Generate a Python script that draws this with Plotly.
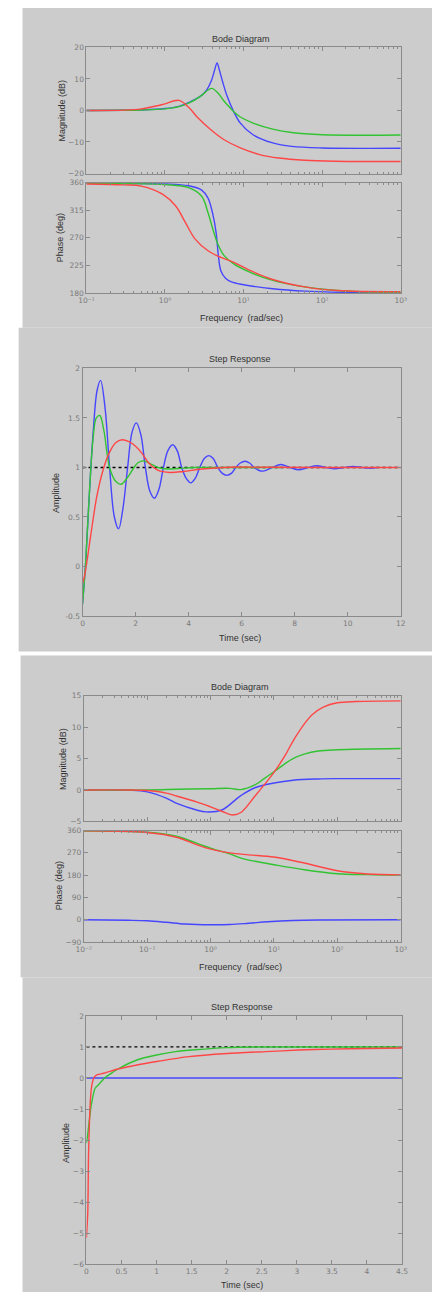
import plotly.graph_objects as go

# ---------------- data ----------------
# Figure 1: Bode diagram
bode1_w_blue = [0.1, 0.3, 0.5, 1.0, 1.5, 2.0, 2.93, 3.4, 3.9, 4.3, 4.6, 4.9, 5.4, 6.2, 7.5, 9.1, 13.2, 23.5, 41, 100, 1000]
bode1_mag_blue = [0, 0.05, 0.15, 0.6, 1.3, 2.5, 4.8, 6.5, 9.5, 13.0, 15.1, 13.0, 9.2, 4.4, -0.4, -4.0, -7.7, -10.3, -11.4, -11.9, -12.0]
bode1_w_green = [0.1, 0.3, 0.5, 1.0, 1.5, 2.0, 2.93, 3.5, 3.95, 4.7, 5.5, 6.2, 7.5, 9, 13.2, 23.5, 41, 100, 1000]
bode1_mag_green = [0, 0.05, 0.15, 0.5, 1.2, 2.3, 4.8, 6.4, 7.0, 5.6, 3.3, 1.8, -0.4, -2.0, -4.0, -5.9, -7.0, -7.7, -7.8]
bode1_w_red = [0.1, 0.3, 0.5, 0.8, 1.0, 1.5, 2.0, 2.66, 3.9, 5.66, 9.1, 16, 28, 60, 150, 1000]
bode1_mag_red = [0, 0.1, 0.5, 1.5, 2.1, 3.2, 1.0, -2.5, -6.3, -9.3, -11.9, -14.0, -15.1, -15.8, -16.1, -16.2]

bode1_pw_blue = [0.1, 1, 2, 2.93, 3.53, 4.07, 4.47, 4.78, 5.15, 5.9, 7, 10, 23.5, 60, 200, 1000]
bode1_ph_blue = [359, 358, 355, 348, 335, 308, 279, 241, 216, 204, 198, 193.5, 187, 183, 181, 180]
bode1_pw_green = [0.1, 1, 2, 2.93, 3.53, 4.07, 4.7, 5.66, 7.5, 12, 23.5, 60, 155, 1000]
bode1_ph_green = [359, 357, 352, 338, 311, 284, 260, 241, 227.5, 214, 200.6, 190, 184, 180.5]
bode1_pw_red = [0.1, 0.3, 0.5, 0.94, 1.37, 1.82, 2.42, 3.53, 5.15, 7.5, 12, 23.5, 60, 155, 1000]
bode1_ph_red = [358, 356.5, 354.5, 341, 322, 295, 268, 249, 238, 230, 217, 202, 190, 184, 182]

# Figure 2: Step response
step1_t_blue = [0, 0.12, 0.25, 0.4, 0.55, 0.68, 0.85, 1.02, 1.2, 1.36, 1.52, 1.7, 1.87, 2.03, 2.2, 2.37,
                2.54, 2.71, 2.88, 3.05, 3.22, 3.4, 3.57, 3.74, 3.91, 4.08, 4.25, 4.42, 4.59, 4.76, 4.93,
                5.1, 5.27, 5.44, 5.61, 5.78, 5.95, 6.13, 6.3, 6.47, 6.64, 6.81, 7.15, 7.48, 7.82, 8.16,
                8.5, 8.84, 9.18, 9.52, 9.86, 10.2, 10.54, 10.88, 11.1]
step1_y_blue = [-0.38, 0.05, 0.7, 1.35, 1.78, 1.88, 1.6, 1.0, 0.5, 0.38, 0.58, 1.0, 1.36, 1.45, 1.33, 1.0,
                0.76, 0.69, 0.78, 1.0, 1.17, 1.23, 1.17, 1.0, 0.89, 0.845, 0.89, 1.0, 1.09, 1.12, 1.09,
                1.0, 0.94, 0.92, 0.94, 1.0, 1.045, 1.063, 1.045, 1.0, 0.972, 0.963, 1.0, 1.03, 1.0, 0.977,
                1.0, 1.018, 1.0, 0.987, 1.0, 1.01, 1.0, 0.993, 1.0]
step1_t_green = [0, 0.12, 0.25, 0.4, 0.52, 0.65, 0.8, 1.02, 1.25, 1.45, 1.7, 1.94, 2.1, 2.3, 2.55, 2.85, 3.2, 3.6, 4.2, 5, 6, 7.5]
step1_y_green = [-0.38, 0.05, 0.7, 1.3, 1.5, 1.525, 1.38, 1.0, 0.86, 0.83, 0.9, 1.0, 1.05, 1.067, 1.04, 1.0, 0.985, 0.99, 1.0, 1.0, 1.0, 1.0]
step1_t_red = [0, 0.08, 0.29, 0.54, 0.78, 1.02, 1.25, 1.49, 1.75, 2.0, 2.25, 2.48, 2.85, 3.3, 3.8, 4.5, 5.5, 7, 9, 12]
step1_y_red = [-0.17, -0.09, 0.28, 0.71, 0.98, 1.155, 1.25, 1.28, 1.26, 1.215, 1.14, 1.05, 0.97, 0.95, 0.96, 0.985, 1.003, 1.002, 1.0, 1.0]
step1_ref_t = [0, 12]
step1_ref_y = [1, 1]

# Figure 3: Bode diagram
bode2_w_blue = [0.01, 0.05, 0.1, 0.2, 0.3, 0.6, 0.85, 1.5, 3, 5, 10, 20, 50, 100, 1000]
bode2_mag_blue = [0, -0.05, -0.3, -1.3, -2.2, -3.2, -3.5, -3.2, -0.9, 0.35, 1.1, 1.55, 1.75, 1.8, 1.8]
bode2_w_green = [0.01, 0.1, 0.3, 1, 2, 3, 5, 7, 10, 15, 20, 30, 50, 100, 1000]
bode2_mag_green = [0, 0, 0.1, 0.2, 0.25, 0.05, 0.8, 1.8, 2.9, 4.2, 5.0, 5.7, 6.2, 6.4, 6.6]
bode2_w_red = [0.01, 0.05, 0.1, 0.2, 0.3, 0.6, 1, 1.5, 2.2, 3, 5, 7, 10, 15, 20, 30, 40, 60, 100, 200, 1000]
bode2_mag_red = [0, 0, -0.1, -0.5, -1.0, -1.9, -2.7, -3.4, -4.0, -3.6, -1.0, 0.8, 2.8, 5.5, 7.8, 10.5, 12.0, 13.2, 13.9, 14.1, 14.2]

bode2_pw_blue = [0.01, 0.05, 0.1, 0.2, 0.4, 1, 2, 4, 8, 20, 50, 1000]
bode2_ph_blue = [0, -2, -4, -10, -17, -20, -19, -14, -8, -3, -1, 0]
bode2_pw_green = [0.01, 0.1, 0.3, 0.6, 1, 2, 3, 5, 10, 30, 100, 300, 1000]
bode2_ph_green = [358, 353, 336, 309, 289, 266, 249, 236, 222, 202, 186, 182, 180]
bode2_pw_red = [0.01, 0.1, 0.3, 0.6, 1, 2, 4, 10, 30, 100, 300, 1000]
bode2_ph_red = [359, 352, 332, 303, 285, 270, 262, 253, 229, 198, 185, 181]

# Figure 4: Step response
step2_t_blue = [0, 4.5]
step2_y_blue = [0, 0]
step2_t_green = [0, 0.02, 0.04, 0.07, 0.124, 0.18, 0.26, 0.354, 0.45, 0.72, 1.0, 1.27, 1.55, 2.0, 2.5, 3, 4.5]
step2_y_green = [-2.1, -1.8, -1.39, -0.86, -0.33, -0.2, 0.0, 0.15, 0.29, 0.58, 0.74, 0.85, 0.91, 0.98, 1.0, 1.0, 1.0]
step2_t_red = [0, 0.02, 0.03, 0.045, 0.06, 0.08, 0.11, 0.15, 0.26, 0.45, 0.72, 1.0, 1.46, 2.01, 2.56, 3.02, 3.48, 4.0, 4.5]
step2_y_red = [-5.15, -4.3, -2.5, -1.3, -0.6, -0.2, 0.02, 0.1, 0.16, 0.29, 0.42, 0.53, 0.69, 0.79, 0.85, 0.9, 0.93, 0.95, 0.965]
step2_ref_t = [0, 4.5]
step2_ref_y = [1, 1]

# tick labels
log_labels_1 = ["10\u207b\u00b9", "10\u2070", "10\u00b9", "10\u00b2", "10\u00b3"]
log_labels_2 = ["10\u207b\u00b2", "10\u207b\u00b9", "10\u2070", "10\u00b9", "10\u00b2", "10\u00b3"]

# ---------------- layout helpers ----------------
W, H = 438, 1297
def fx(px):
    return px / W
def fy(py):
    return 1 - py / H

BLUE = 'rgb(70,70,255)'
GREEN = 'rgb(50,195,50)'
RED = 'rgb(255,70,70)'
FRAME = '#8a8a8a'
TICKFONT = dict(family='DejaVu Sans, Liberation Sans, sans-serif', size=7.5, color='#7a7a7a')
LABELFONT = dict(family='Liberation Sans, Arial, sans-serif', size=9, color='#333333')

fig = go.Figure()

def add(x, y, color, n, dash=None, shape='spline', width=1.4, smoothing=1.0):
    suf = '' if n == 1 else str(n)
    fig.add_trace(go.Scatter(x=x, y=y, mode='lines',
                             line=dict(color=color, width=width, shape=shape, dash=dash,
                                       smoothing=smoothing if shape == 'spline' else None),
                             xaxis='x' + suf, yaxis='y' + suf, showlegend=False, hoverinfo='skip'))

# fig 1
add(bode1_w_blue, bode1_mag_blue, BLUE, 1)
add(bode1_w_green, bode1_mag_green, GREEN, 1)
add(bode1_w_red, bode1_mag_red, RED, 1)
add(bode1_pw_blue, bode1_ph_blue, BLUE, 2)
add(bode1_pw_green, bode1_ph_green, GREEN, 2)
add(bode1_pw_red, bode1_ph_red, RED, 2)
# fig 2
add(step1_ref_t, step1_ref_y, 'black', 3, dash='dot', shape='linear', width=1.3)
add(step1_t_blue, step1_y_blue, BLUE, 3)
add(step1_t_green, step1_y_green, GREEN, 3)
add(step1_t_red, step1_y_red, RED, 3)
# fig 3
add(bode2_w_blue, bode2_mag_blue, BLUE, 4)
add(bode2_w_green, bode2_mag_green, GREEN, 4)
add(bode2_w_red, bode2_mag_red, RED, 4)
add(bode2_pw_blue, bode2_ph_blue, BLUE, 5)
add(bode2_pw_green, bode2_ph_green, GREEN, 5)
add(bode2_pw_red, bode2_ph_red, RED, 5)
# fig 4
add(step2_ref_t, step2_ref_y, 'black', 6, dash='dot', shape='linear', width=1.3)
add(step2_t_blue, step2_y_blue, BLUE, 6, shape='linear')
add(step2_t_green, step2_y_green, GREEN, 6, smoothing=0.6)
add(step2_t_red, step2_y_red, RED, 6, smoothing=0.6)

minor_log = [k * 10.0 ** d for d in range(-2, 3) for k in range(2, 10)]

def base_axis(dom, anchor, **kw):
    d = dict(domain=dom, anchor=anchor, showline=True, linecolor=FRAME, linewidth=1,
             mirror='ticks', ticks='inside', ticklen=4, tickcolor=FRAME, tickwidth=1,
             showgrid=False, zeroline=False, tickfont=TICKFONT, fixedrange=True)
    d.update(kw)
    return d

def logx(dom, anchor, rng, vals, labels, show):
    return base_axis(dom, anchor, type='log', range=rng, tickmode='array', tickvals=vals,
                     ticktext=labels, showticklabels=show,
                     minor=dict(ticks='inside', ticklen=2, tickcolor=FRAME, tickmode='array',
                                tickvals=minor_log))

layout = dict(width=W, height=H, margin=dict(l=0, r=0, t=0, b=0),
              paper_bgcolor='white', plot_bgcolor='white', showlegend=False)

# fig1 mag / phase
layout['xaxis'] = logx([fx(81), fx(405.7)], 'y', [-1, 3], [0.1, 1, 10, 100, 1000], log_labels_1, False)
layout['yaxis'] = base_axis([fy(170.7), fy(43.7)], 'x', range=[-20, 20], tickvals=[-20, -10, 0, 10, 20])
layout['xaxis2'] = logx([fx(81), fx(405.7)], 'y2', [-1, 3], [0.1, 1, 10, 100, 1000], log_labels_1, True)
layout['yaxis2'] = base_axis([fy(291), fy(180)], 'x2', range=[180, 360], tickvals=[180, 225, 270, 315, 360])
# fig2
layout['xaxis3'] = base_axis([fx(77), fx(405.7)], 'y3', range=[0, 12], tickvals=[0, 2, 4, 6, 8, 10, 12])
layout['yaxis3'] = base_axis([fy(616.3), fy(367)], 'x3', range=[-0.5, 2],
                             tickvals=[-0.5, 0, 0.5, 1, 1.5, 2], ticktext=['-0.5', '0', '0.5', '1', '1.5', '2'])
# fig3
layout['xaxis4'] = logx([fx(78.3), fx(405.7)], 'y4', [-2, 3], [0.01, 0.1, 1, 10, 100, 1000], log_labels_2, False)
layout['yaxis4'] = base_axis([fy(823), fy(696.7)], 'x4', range=[-5, 15], tickvals=[-5, 0, 5, 10, 15])
layout['xaxis5'] = logx([fx(78.3), fx(405.7)], 'y5', [-2, 3], [0.01, 0.1, 1, 10, 100, 1000], log_labels_2, True)
layout['yaxis5'] = base_axis([fy(944.7), fy(832.3)], 'x5', range=[-90, 360], tickvals=[-90, 0, 90, 180, 270, 360])
# fig4
layout['xaxis6'] = base_axis([fx(81), fx(407)], 'y6', range=[0, 4.5],
                             tickvals=[0, 0.5, 1, 1.5, 2, 2.5, 3, 3.5, 4, 4.5],
                             ticktext=['0', '0.5', '1', '1.5', '2', '2.5', '3', '3.5', '4', '4.5'])
layout['yaxis6'] = base_axis([fy(1269), fy(1019)], 'x6', range=[-6, 2], tickvals=list(range(-6, 3)))

# gray figure backgrounds
rects = [(15, 4, 438, 326), (11, 326, 438, 652), (13, 656, 438, 980), (15, 980, 438, 1297)]
layout['shapes'] = [dict(type='rect', xref='paper', yref='paper', x0=fx(a), x1=fx(c), y0=fy(d), y1=fy(b),
                         fillcolor='#cccccc', line=dict(width=0), layer='below') for a, b, c, d in rects]

def txt(text, x, y, angle=0, size=9):
    f = dict(LABELFONT)
    f['size'] = size
    return dict(text=text, x=fx(x), y=fy(y), xref='paper', yref='paper', showarrow=False,
                xanchor='center', yanchor='middle', textangle=angle, font=f)

layout['annotations'] = [
    txt('Bode Diagram', 240.7, 35),
    txt('Magnitude (dB)', 56, 107, -90),
    txt('Phase (deg)', 54, 235.5, -90),
    txt('Frequency  (rad/sec)', 241, 316),
    txt('Step Response', 240, 357.7),
    txt('Amplitude', 49, 492, -90),
    txt('Time (sec)', 240, 638),
    txt('Bode Diagram', 240, 687.3),
    txt('Magnitude (dB)', 57, 760, -90),
    txt('Phase (deg)', 53, 888, -90),
    txt('Frequency  (rad/sec)', 240, 970),
    txt('Step Response', 242, 1010),
    txt('Amplitude', 60, 1147, -90),
    txt('Time (sec)', 242, 1290),
]

fig.update_layout(**layout)
fig.write_html("out.html", config={'displayModeBar': False},
               post_script="document.body.style.margin='0px';document.body.style.overflow='hidden';")
